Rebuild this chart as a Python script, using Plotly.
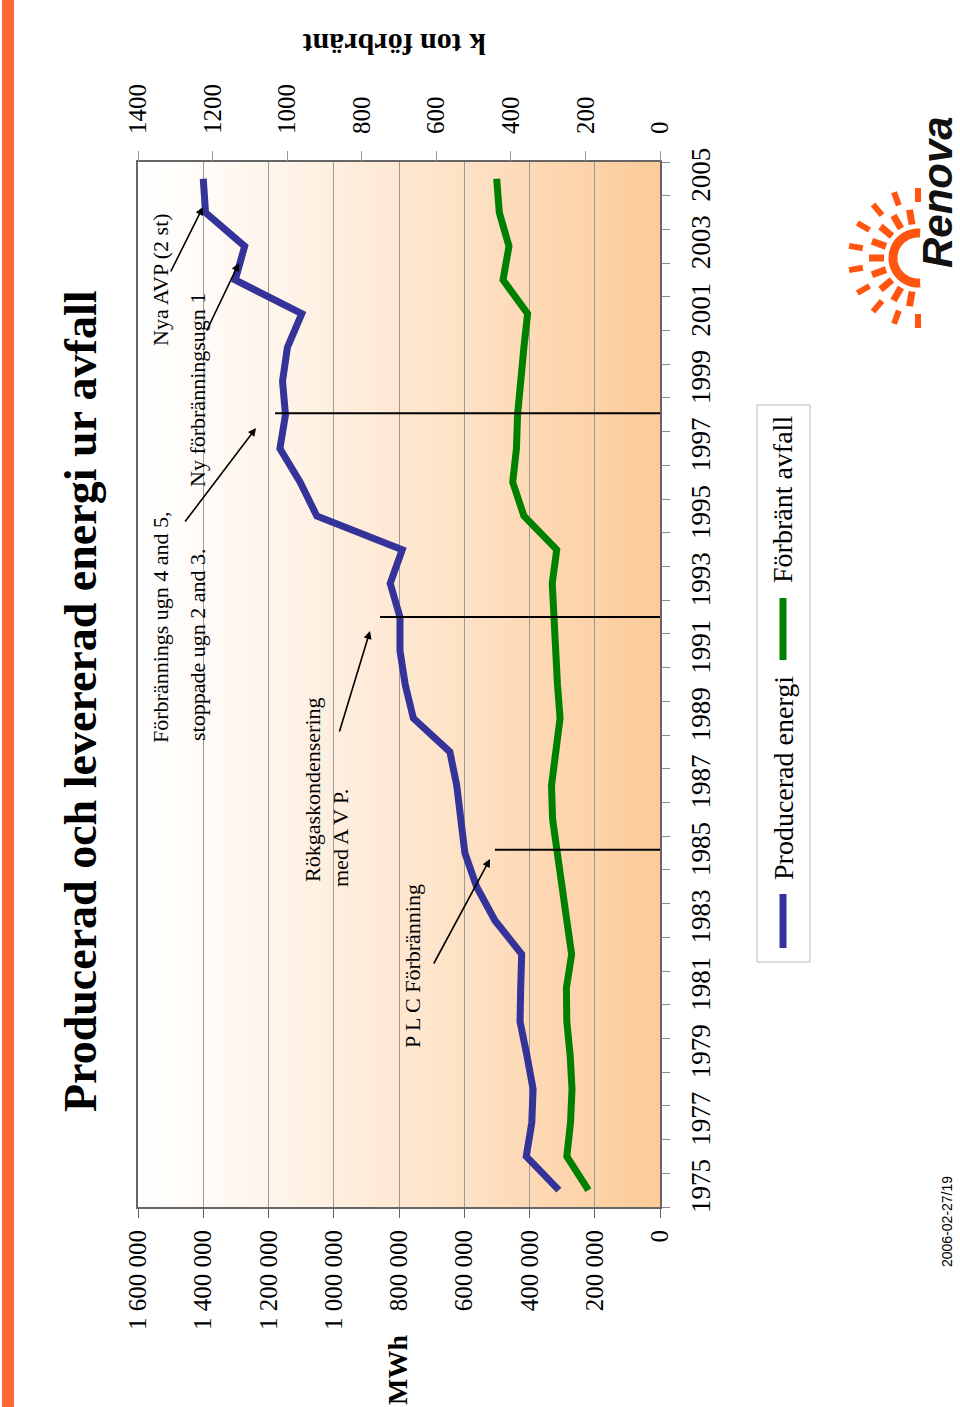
import math
import plotly.graph_objects as go

# ---------------- data ----------------
years = list(range(1975, 2006))
produced_mwh = [310000, 410000, 393000, 389000, 408000, 429000, 427000, 424000,
                506000, 562000, 598000, 608000, 623000, 644000, 756000, 781000,
                797000, 797000, 827000, 790000, 1052000, 1103000, 1165000, 1148000,
                1157000, 1142000, 1098000, 1302000, 1273000, 1393000, 1400000]
burned_kton = [192, 250, 240, 236, 241, 250, 251, 237, 250, 264, 276, 288,
               291, 279, 268, 275, 280, 284, 289, 277, 365, 395, 385, 382,
               375, 365, 355, 421, 405, 431, 438]
series_names = ["Producerad energi", "Förbränt avfall"]
series_colors = ["#333399", "#008000"]

mwh_ticks = [0, 200000, 400000, 600000, 800000, 1000000, 1200000, 1400000, 1600000]
mwh_ticktext = ["0", "200 000", "400 000", "600 000", "800 000", "1 000 000",
                "1 200 000", "1 400 000", "1 600 000"]
kton_ticks = [0, 200, 400, 600, 800, 1000, 1200, 1400]
year_ticks = list(range(1975, 2006, 2))

# event markers (year, extent in MWh)
event_years = [1985.1, 1992.0, 1998.05]
event_extent = [506000, 858000, 1180000]

SERIF = "Liberation Serif"
SANS = "Liberation Sans"

# pixel -> paper helpers (plot area 138..660 x, 162..1207 y)
L, R, T, B = 138, 660, 162, 1207
def px(x):
    return (x - L) / (R - L)
def py(y):
    return (B - y) / (B - T)

fig = go.Figure()
fig.add_trace(go.Scatter(x=produced_mwh, y=years, mode="lines", name=series_names[0],
                         line=dict(color=series_colors[0], width=7), xaxis="x", yaxis="y"))
fig.add_trace(go.Scatter(x=burned_kton, y=years, mode="lines", name=series_names[1],
                         line=dict(color=series_colors[1], width=7), xaxis="x2", yaxis="y"))

shapes = []
# gradient background
N = 60
c0 = (255, 255, 255)
c1 = (252, 202, 152)
for i in range(N):
    t = (i + 0.5) / N
    f = t ** 1.2
    col = tuple(round(c0[k] * (1 - f) + c1[k] * f) for k in range(3))
    shapes.append(dict(type="rect", xref="paper", yref="paper", x0=i / N, x1=(i + 1) / N + 0.002,
                       y0=0, y1=1, fillcolor="rgb(%d,%d,%d)" % col, line=dict(width=0), layer="below"))
# event lines
for ey, ext in zip(event_years, event_extent):
    shapes.append(dict(type="line", xref="x", yref="y", x0=0, x1=ext, y0=ey, y1=ey,
                       line=dict(color="black", width=2)))
# orange stripe on left edge
shapes.append(dict(type="rect", xref="paper", yref="paper", x0=px(2), x1=px(14), y0=py(1407), y1=py(0),
                   fillcolor="#FF6633", line=dict(width=0)))
# legend box
shapes.append(dict(type="rect", xref="paper", yref="paper", x0=px(757), x1=px(810), y0=py(962), y1=py(405),
                   fillcolor="white", line=dict(color="#BBBBBB", width=1)))
shapes.append(dict(type="line", xref="paper", yref="paper", x0=px(783), x1=px(783), y0=py(948), y1=py(894),
                   line=dict(color=series_colors[0], width=7)))
shapes.append(dict(type="line", xref="paper", yref="paper", x0=px(783), x1=px(783), y0=py(660), y1=py(598),
                   line=dict(color=series_colors[1], width=7)))

# logo sun
cx, cy = 918, 258
arc = []
for k in range(0, 41):
    th = math.radians(85 + k * 190 / 40)
    arc.append((cx + 25 * math.cos(th), cy - 25 * math.sin(th)))
path = "M " + " L ".join("%.4f %.4f" % (px(a), py(b)) for a, b in arc)
shapes.append(dict(type="path", xref="paper", yref="paper", path=path,
                   line=dict(color="#FF5511", width=9)))
for ang in range(100, 261, 20):
    th = math.radians(ang)
    shapes.append(dict(type="line", xref="paper", yref="paper",
                       x0=px(cx + 34 * math.cos(th)), y0=py(cy - 34 * math.sin(th)),
                       x1=px(cx + 49 * math.cos(th)), y1=py(cy - 49 * math.sin(th)),
                       line=dict(color="#FF5511", width=7)))
for ang in range(90, 271, 20):
    th = math.radians(ang)
    shapes.append(dict(type="line", xref="paper", yref="paper",
                       x0=px(cx + 56 * math.cos(th)), y0=py(cy - 56 * math.sin(th)),
                       x1=px(cx + 70 * math.cos(th)), y1=py(cy - 70 * math.sin(th)),
                       line=dict(color="#FF5511", width=6)))

annotations = []
def txt(text, x, y, size, angle=-90, family=SERIF, color="black", **kw):
    annotations.append(dict(text=text, x=px(x), y=py(y), xref="paper", yref="paper",
                            showarrow=False, textangle=angle, xanchor="center", yanchor="middle",
                            font=dict(family=family, size=size, color=color), **kw))

def arrow(x_head, y_head, x_tail, y_tail):
    annotations.append(dict(text="", x=px(x_head), y=py(y_head), xref="paper", yref="paper",
                            ax=x_tail - x_head, ay=y_tail - y_head, showarrow=True,
                            arrowhead=2, arrowsize=1, arrowwidth=1.6, arrowcolor="black"))

txt("<b>Producerad och levererad energi ur avfall</b>", 80, 702, 46)
txt("<b>MWh</b>", 397, 1370, 28)
txt("<b>k ton förbränt</b>", 395, 45, 30, angle=180)
txt("2006-02-27/19", 947, 1222, 14, family=SANS)

txt("Förbrännings ugn 4 and 5,", 160, 627, 22)
txt("stoppade ugn 2 and 3.", 197, 645, 22)
txt("Ny förbränningsugn 1", 197, 390, 22)
txt("Nya AVP (2 st)", 160, 280, 22)
txt("Rökgaskondensering", 312, 790, 22)
txt("med A V P.", 340, 838, 22)
txt("P L C Förbränning", 412, 966, 22)

arrow(490, 859, 433, 965)
arrow(370, 631, 339, 733)
arrow(256, 428, 184, 523)
arrow(239, 263, 206, 332)
arrow(203, 207, 170, 273)

txt(series_names[0], 783, 778, 28)
txt(series_names[1], 783, 500, 28)

annotations.append(dict(text="<b><i>Renova</i></b>", x=px(937), y=py(192), xref="paper", yref="paper",
                        showarrow=False, textangle=-90, xanchor="center", yanchor="middle",
                        font=dict(family=SANS, size=42, color="#111111")))

axis_line = dict(showline=True, linecolor="#666666", linewidth=2)
fig.update_layout(
    width=960, height=1407,
    margin=dict(l=L, r=960 - R, t=T, b=1407 - B, pad=0),
    paper_bgcolor="white", plot_bgcolor="white",
    showlegend=False,
    xaxis=dict(range=[1600000, 0], tickmode="array", tickvals=mwh_ticks, ticktext=mwh_ticktext,
               tickangle=-90, ticks="outside", ticklen=9, tickcolor="#666666",
               showgrid=True, gridcolor="#9A9A9A", gridwidth=1, zeroline=False,
               tickfont=dict(family=SERIF, size=25, color="black"), mirror=True,
               ticklabelstandoff=2, **axis_line),
    xaxis2=dict(range=[1400, 0], overlaying="x", side="top", tickmode="array", tickvals=kton_ticks,
                tickangle=-90, ticks="outside", ticklen=10, tickcolor="#999999",
                showgrid=False, zeroline=False, showline=False,
                tickfont=dict(family=SERIF, size=25, color="black"), ticklabelstandoff=12),
    yaxis=dict(range=[1974.5, 2005.5], side="right", tickmode="array", tickvals=year_ticks,
               tickangle=-90, ticks="", showgrid=False, zeroline=False, mirror=True,
               minor=dict(tick0=1974.5, dtick=1, ticks="outside", ticklen=8, tickcolor="#888888", showgrid=False),
               tickfont=dict(family=SERIF, size=27, color="black"), ticklabelstandoff=16, **axis_line),
    shapes=shapes,
    annotations=annotations,
)

fig.write_html("out.html", config={"displayModeBar": False},
               post_script="document.body.style.margin='0';document.body.style.overflow='hidden';")
